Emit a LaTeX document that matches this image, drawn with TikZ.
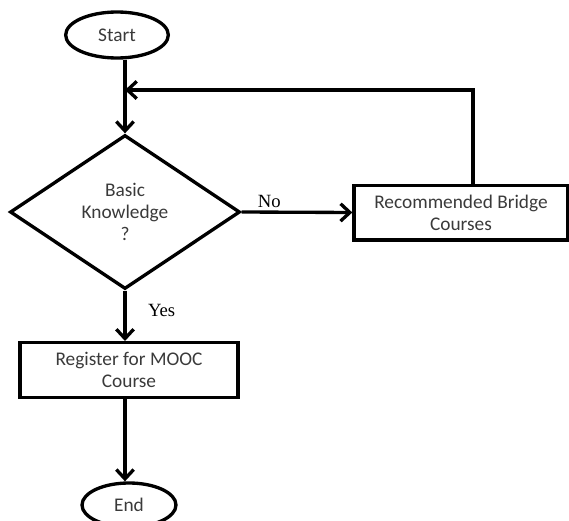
\documentclass[tikz,border=0pt]{standalone}
\usepackage{fontspec}
\setmainfont{Carlito}
\newfontfamily\labfont{Liberation Serif}
\usetikzlibrary{positioning,arrows.meta,shapes.geometric}
\definecolor{ink}{HTML}{3A3A3A}

\begin{document}
\begin{tikzpicture}[x=0.75pt,y=-0.75pt,
  every node/.style={font=\fontsize{14.5}{16.5}\selectfont,text=ink,align=center,line width=2.5pt},
  term/.style={draw,ellipse,minimum width=77pt,minimum height=34.5pt,inner sep=0pt},
  decision/.style={draw,diamond,minimum width=172.5pt,minimum height=115.5pt,inner sep=0pt},
  proc/.style={draw,rectangle,minimum height=41pt,inner sep=0pt},
  lab/.style={font=\labfont\fontsize{14}{16}\selectfont,text=black,inner sep=2pt},
  flow/.style={line width=2.5pt,-{Straight Barb[length=7pt,width=13pt]}}]
\useasboundingbox (0,0) rectangle (569,521);
\node[term] (start) at (117,35) {Start};
\node[decision] (know) at (125,212) {Basic\\Knowledge\\?};
\node[proc,minimum width=160.5pt] (bridge) at (461,212.5) {Recommended Bridge\\Courses};
\node[proc,minimum width=163.5pt] (reg) at (129,370) {Register for MOOC\\Course};
\node[term,minimum width=70.5pt,minimum height=33pt] (end) at (129,505) {End};
\coordinate (back) at (473,90);
\draw[flow] (start.south -| know.north) -- (know.north);
\draw[flow] (know.east) -- node[lab,pos=0.25,above]{No} (bridge.west);
\draw[flow] (bridge.north -| back) |- (back -| know.north);
\draw[flow] (know.south) -- node[lab,pos=0.4,right,xshift=14pt]{Yes} (know.south |- reg.north);
\draw[flow] (reg.south -| know.south) -- (end.north -| know.south);
\end{tikzpicture}
\end{document}
